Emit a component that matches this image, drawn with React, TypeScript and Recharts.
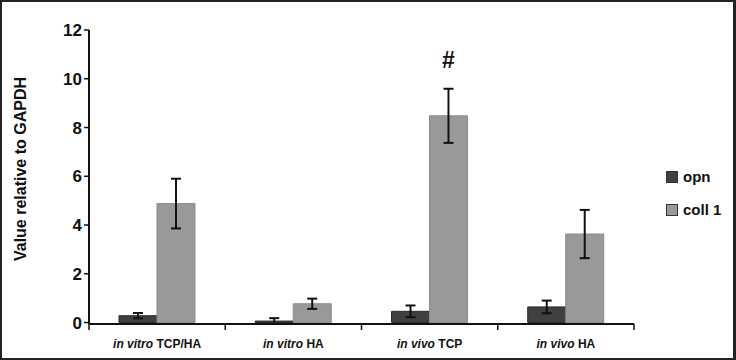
import { BarChart, Bar, XAxis, YAxis, ErrorBar, Legend, LabelList } from "recharts";

const groupItalic = ["in vitro", "in vitro", "in vivo", "in vivo"];
const groupRest = ["TCP/HA", "HA", "TCP", "HA"];
const opn = [0.28, 0.06, 0.46, 0.64];
const opnErr = [0.11, 0.12, 0.24, 0.26];
const coll1 = [4.88, 0.77, 8.48, 3.63];
const coll1Err = [1.02, 0.21, 1.11, 0.99];
const marks = ["", "", "#", ""];
const yTicks = [0, 2, 4, 6, 8, 10, 12];
const legendOrder = ["opn", "coll 1"];

const data = groupRest.map((rest, i) => ({
  name: groupItalic[i] + " " + rest,
  italic: groupItalic[i],
  rest,
  opn: opn[i],
  opnErr: opnErr[i],
  coll1: coll1[i],
  coll1Err: coll1Err[i],
  mark: marks[i],
}));

const font = "'Liberation Sans', Arial, sans-serif";

// category label plus tick marks at the band edges (reference ticks sit between groups)
function CategoryTick({ x, y, payload, index }: any) {
  const i = payload.index ?? index ?? 0;
  const d = data[i];
  const half = payload.offset || 0;
  const lineY = y - 6;
  return (
    <g>
      <line x1={x - half} x2={x - half} y1={lineY} y2={lineY + 6} stroke="#111" strokeWidth={1.5} />
      {i === data.length - 1 && (
        <line x1={x + half} x2={x + half} y1={lineY} y2={lineY + 6} stroke="#111" strokeWidth={1.5} />
      )}
      <text x={x} y={y} dy={18} textAnchor="middle" fontFamily={font} fontSize={12} fontWeight="bold" fill="#111">
        <tspan fontStyle="italic">{d ? d.italic : ""}</tspan>
        <tspan> {d ? d.rest : ""}</tspan>
      </text>
    </g>
  );
}

function LegendBox({ payload }: any) {
  const items = [...(payload || [])].sort(
    (a: any, b: any) => legendOrder.indexOf(a.value) - legendOrder.indexOf(b.value)
  );
  return (
    <div style={{ fontFamily: font, fontSize: 15, fontWeight: "bold", color: "#111" }}>
      {items.map((p: any) => (
        <div key={p.value} style={{ display: "flex", alignItems: "center", height: 33 }}>
          <span style={{ width: 10, height: 10, background: p.color, border: "1px solid #333", marginRight: 5 }} />
          {p.value}
        </div>
      ))}
    </div>
  );
}

export default function App() {
  return (
    <div
      style={{
        position: "fixed",
        left: 0,
        top: 0,
        width: 736,
        height: 360,
        border: "2px solid #222",
        borderRightWidth: 3,
        boxSizing: "border-box",
        background: "#fff",
      }}
    >
      <div style={{ position: "absolute", left: -2, top: -2 }}>
        <BarChart
          width={736}
          height={360}
          data={data}
          margin={{ top: 30, right: 32, left: 29, bottom: 6 }}
          barCategoryGap="22%"
          barGap={0}
        >
          <XAxis
            dataKey="name"
            height={30}
            interval={0}
            axisLine={{ stroke: "#111", strokeWidth: 2 }}
            tickLine={false}
            tickSize={6}
            tickMargin={0}
            tick={<CategoryTick />}
          />
          <YAxis
            width={60}
            domain={[0, 12]}
            ticks={yTicks}
            interval={0}
            axisLine={{ stroke: "#111", strokeWidth: 2 }}
            tickLine={{ stroke: "#111", strokeWidth: 1.5 }}
            tickSize={5}
            tick={{ fontFamily: font, fontSize: 17, fontWeight: "bold", fill: "#111" }}
            label={{
              content: () => (
                <text
                  x={26}
                  y={169}
                  transform="rotate(-90 26 169)"
                  textAnchor="middle"
                  fontFamily={font}
                  fontSize={16}
                  fontWeight="bold"
                  fill="#111"
                >
                  Value relative to GAPDH
                </text>
              ),
            }}
          />
          <Legend
            layout="vertical"
            align="right"
            verticalAlign="top"
            wrapperStyle={{ left: 666, top: 160, width: 70 }}
            content={<LegendBox />}
          />
          <Bar dataKey="opn" name="opn" fill="#404040" stroke="#2a2a2a" isAnimationActive={false}>
            <ErrorBar dataKey="opnErr" width={5} stroke="#111" strokeWidth={2} />
          </Bar>
          <Bar dataKey="coll1" name="coll 1" fill="#999999" stroke="#8a8a8a" isAnimationActive={false}>
            <ErrorBar dataKey="coll1Err" width={5} stroke="#111" strokeWidth={2} />
            <LabelList
              dataKey="mark"
              content={(p: any) =>
                p.value ? (
                  <text
                    x={p.x + p.width / 2}
                    y={p.y - 48}
                    textAnchor="middle"
                    fontFamily={font}
                    fontSize={23}
                    fontWeight="bold"
                    fill="#111"
                  >
                    {p.value}
                  </text>
                ) : null
              }
            />
          </Bar>
        </BarChart>
      </div>
    </div>
  );
}
